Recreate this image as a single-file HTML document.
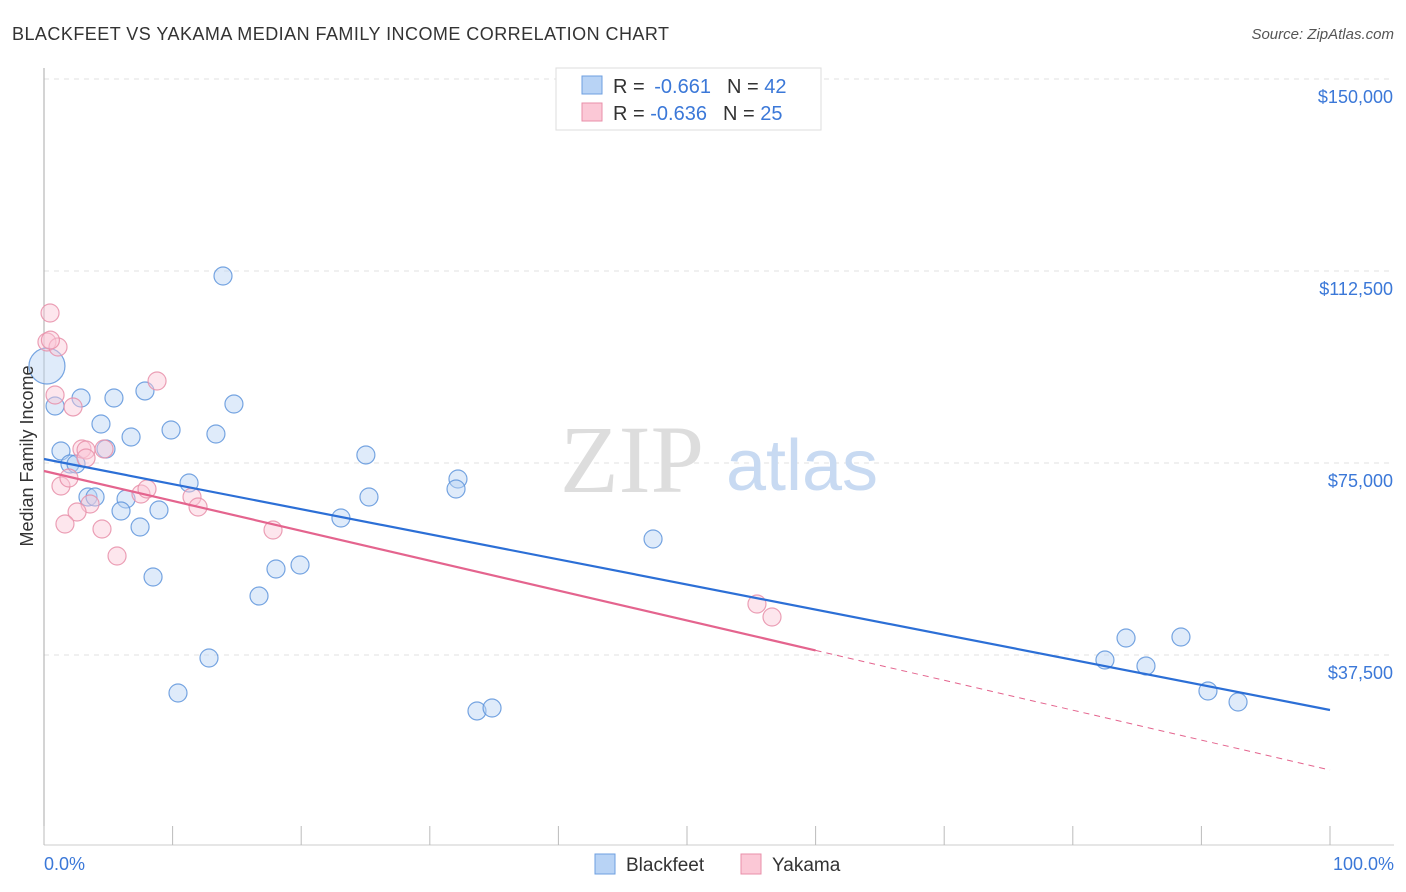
<!DOCTYPE html>
<html><head><meta charset="utf-8"><style>
body{margin:0;background:#fff;font-family:"Liberation Sans",sans-serif;}
svg{display:block}
</style></head><body>
<svg id="chart" width="1406" height="892">
<text x="12" y="40" font-size="18" fill="#333" textLength="657">BLACKFEET VS YAKAMA MEDIAN FAMILY INCOME CORRELATION CHART</text>
<text x="1394" y="39" font-size="15" fill="#555" font-style="italic" text-anchor="end">Source: ZipAtlas.com</text>
<g id="grid"></g>
<text x="632" y="492" font-size="96" fill="#ddd" font-family="Liberation Serif,serif" text-anchor="middle">ZIP</text>
<text x="802" y="490" font-size="72" fill="#c8daf2" text-anchor="middle">atlas</text>
<g id="marks"></g>
<text x="33" y="456" font-size="18" fill="#333" transform="rotate(-90 33 456)" text-anchor="middle">Median Family Income</text>
<text x="44" y="870" font-size="18" fill="#3b78d8">0.0%</text>
<text x="1394" y="870" font-size="18" fill="#3b78d8" text-anchor="end">100.0%</text>
<g>
<rect x="556" y="68" width="265" height="62" fill="#fff" stroke="#ddd"/>
<rect x="582" y="76" width="20" height="18" fill="#b8d3f5" stroke="#6e9fe0"/>
<rect x="582" y="103" width="20" height="18" fill="#fbc8d6" stroke="#e88fa9"/>
<text x="613" y="93" font-size="20" fill="#333">R = <tspan fill="#3b78d8">&#8201;-0.661</tspan><tspan dx="16">N = </tspan><tspan fill="#3b78d8">42</tspan></text>
<text x="613" y="120" font-size="20" fill="#333">R = <tspan fill="#3b78d8">-0.636</tspan><tspan dx="16">N = </tspan><tspan fill="#3b78d8">25</tspan></text>
</g>
<g>
<rect x="595" y="854" width="20" height="20" fill="#b8d3f5" stroke="#6e9fe0"/>
<text x="626" y="871" font-size="19" fill="#333">Blackfeet</text>
<rect x="741" y="854" width="20" height="20" fill="#fbc8d6" stroke="#e88fa9"/>
<text x="772" y="871" font-size="19" fill="#333">Yakama</text>
</g>
</svg>
<script>
const yTicks=[150000,112500,75000,37500];
const yTickLabels=["$150,000","$112,500","$75,000","$37,500"];
const xTicks=[0,10,20,30,40,50,60,70,80,90,100];
const blackfeetX=[0.23,0.86,2.88,5.44,7.85,14.77,13.92,4.43,6.77,9.88,13.37,1.32,2.02,2.49,4.82,3.42,3.97,6.38,5.99,8.94,7.47,11.28,8.48,12.83,10.42,16.72,18.04,19.91,23.09,25.03,25.27,32.19,32.04,33.67,34.84,47.36,82.5,84.14,85.69,88.41,90.51,92.85];
const blackfeetY=[93945,86133,87695,87695,89063,86523,111523,82617,80078,81445,80664,77344,74805,74805,77734,68359,68359,67969,65625,65820,62500,71094,52734,36914,30078,49023,54297,55078,64258,76563,68359,71875,69922,26563,27148,60156,36523,40820,35352,41016,30469,28320];
const yakamaX=[0.47,0.23,1.09,0.86,2.26,8.79,2.95,3.27,4.67,3.27,1.32,1.94,3.58,2.57,1.63,4.51,5.68,7.54,8.01,11.51,11.98,17.81,55.44,56.61,0.5];
const yakamaY=[104297,98633,97656,88281,85938,91016,77734,77539,77734,75977,70508,72070,66992,65430,63086,62109,56836,68945,69922,68359,66406,61914,47461,44922,99000];
const blackfeetTrend=[75781,26758];
const yakamaTrend=[73438,15039];
const yakamaSolidEnd=60;
const X=v=>44+v*12.86;
const Y=v=>79+(150000-v)/37500*192;
const NS="http://www.w3.org/2000/svg";
function mk(t,a,p){const e=document.createElementNS(NS,t);for(const k in a)e.setAttribute(k,a[k]);p.appendChild(e);return e;}
const grid=document.getElementById('grid'),marks=document.getElementById('marks');
yTicks.forEach((v,i)=>{
 const l=mk('line',{x1:44,x2:1394,y1:Y(v),y2:Y(v),stroke:'#e2e2e2','stroke-dasharray':'5,5'},grid);
 
 
 const t=mk('text',{x:1393,y:Y(v)+24,'font-size':18,fill:'#3b78d8','text-anchor':'end'},grid);
 t.textContent=yTickLabels[i];
 
 
});
const ax=mk('line',{x1:44,x2:44,y1:68,y2:845,stroke:'#aaa'},grid);


const bx=mk('line',{x1:44,x2:1394,y1:845,y2:845,stroke:'#ccc'},grid);


xTicks.forEach(v=>{
 const l=mk('line',{x1:X(v),x2:X(v),y1:826,y2:845,stroke:'#bbb'},grid);
 
 
});
function pts(xs,ys,fill,stroke,name){
 xs.forEach((x,i)=>{
  const r=(name==='blackfeet-point'&&i===0)?18:9;
  const c=mk('circle',{cx:X(x),cy:Y(ys[i]),r:r,fill:fill,stroke:stroke,'stroke-width':1.2,'fill-opacity':0.45,'stroke-opacity':0.85},marks);
  
  
 });
}
pts(blackfeetX,blackfeetY,'#b8d3f5','#5f95dc','blackfeet-point');
pts(yakamaX,yakamaY,'#fbc8d6','#e88fa9','yakama-point');
const bl=mk('line',{x1:X(0),y1:Y(blackfeetTrend[0]),x2:X(100),y2:Y(blackfeetTrend[1]),stroke:'#2c6fd6','stroke-width':2.2},marks);


const ym=yakamaTrend[0]+(yakamaTrend[1]-yakamaTrend[0])*yakamaSolidEnd/100;
const yl=mk('line',{x1:X(0),y1:Y(yakamaTrend[0]),x2:X(yakamaSolidEnd),y2:Y(ym),stroke:'#e4648e','stroke-width':2.2},marks);


const yd=mk('line',{x1:X(yakamaSolidEnd),y1:Y(ym),x2:X(100),y2:Y(yakamaTrend[1]),stroke:'#e4648e','stroke-width':1,'stroke-dasharray':'6,5'},marks);


</script>
</body></html>
